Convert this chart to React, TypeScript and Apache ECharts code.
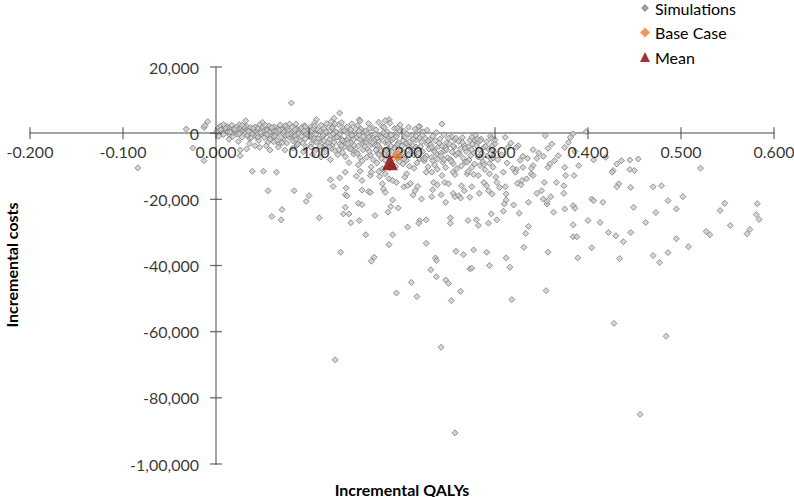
import React, { useEffect, useRef } from "react";
import * as echarts from "echarts";

const xTicks = [-0.2, -0.1, 0, 0.1, 0.2, 0.3, 0.4, 0.5, 0.6];
const yTicks = [-100000, -80000, -60000, -40000, -20000, 0, 20000];

const xTitle = "Incremental QALYs";
const yTitle = "Incremental costs";
const seriesNames = ["Simulations", "Base Case", "Mean"];

const baseCase: [number, number][] = [[0.195, -6800]];
const meanPoint: [number, number][] = [[0.187, -8800]];

// Simulations: [incremental QALYs, incremental costs]
const simulationPoints: [number, number][] = [
  // outliers near origin
  [-0.084, -10500], [-0.032, 1270], [-0.025, -4470], [-0.013, 1750], [-0.009, 3470], [-0.013, -8300],
  [0.033, -4770], [0.032, 3780], [0.05, 3270], [0.042, -3780], [0.047, -4280], [0.058, -5080],
  [0.026, -5080], [0.081, 9120], [-0.012, 2300], [0.026, -6800], [0.108, 4100], [0.133, 6100],
  [0.127, 4500], [0.154, 4100], [0.186, 4100], [0.182, 3800], [0.219, 2000], [0.218, 1000],
  // dense band
  [0.002, 1500], [0.004, 800], [0.005, 2200], [0.006, 300], [0.007, 1200], [0.008, -400], [0.009, 1800], [0.003, -900], [0.001, 500],
  [0.011, 1000], [0.012, 2000], [0.013, 400], [0.014, 1500], [0.015, -600], [0.016, 900], [0.017, 2400], [0.018, 100], [0.019, 1300], [0.014, -1800],
  [0.021, 700], [0.022, 1800], [0.023, -300], [0.024, 1100], [0.025, 2600], [0.026, 400], [0.027, 1500], [0.028, -1200], [0.029, 900], [0.024, -2500],
  [0.031, 1300], [0.032, 200], [0.033, 2100], [0.034, -700], [0.035, 1000], [0.036, -1500], [0.037, 1700], [0.038, 500], [0.039, -300], [0.036, -3200],
  [0.041, 800], [0.042, 1900], [0.043, -1000], [0.044, 400], [0.045, 1400], [0.046, -2200], [0.047, 2600], [0.048, -400], [0.049, 1100], [0.045, -300],
  [0.051, 600], [0.052, -1300], [0.053, 1700], [0.054, -200], [0.055, 900], [0.056, -2700], [0.057, 2200], [0.058, -800], [0.059, 1300], [0.054, -3800], [0.058, 300],
  [0.061, -1500], [0.062, 800], [0.063, 1900], [0.064, -400], [0.065, -2300], [0.066, 1200], [0.067, 200], [0.068, -3300], [0.069, 2500], [0.063, -900], [0.067, -4200],
  [0.071, 1000], [0.072, -1800], [0.073, 300], [0.074, 2100], [0.075, -700], [0.076, -3000], [0.077, 1500], [0.078, -200], [0.079, -1200], [0.074, -5100], [0.078, 600],
  [0.081, -600], [0.082, 1800], [0.083, -2400], [0.084, 400], [0.085, -1300], [0.086, 2800], [0.087, -3600], [0.088, 900], [0.089, -100], [0.083, -4500], [0.087, 1300], [0.085, -800],
  [0.091, 1200], [0.092, -900], [0.093, -2900], [0.094, 300], [0.095, 2300], [0.096, -1700], [0.097, -4100], [0.098, 700], [0.099, -500], [0.094, -5600], [0.092, 1700], [0.097, -200],
  [0.101, -1100], [0.102, 1900], [0.103, -3100], [0.104, 400], [0.105, -2100], [0.106, 3100], [0.107, -400], [0.108, -5000], [0.109, 1100], [0.104, -6400], [0.106, -1600], [0.103, 800],
  [0.111, -2600], [0.112, 600], [0.113, 2400], [0.114, -1200], [0.115, -4300], [0.116, 1400], [0.117, -300], [0.118, -3500], [0.119, 2900], [0.113, -7200], [0.117, -5800], [0.115, 200],
  [0.121, 1700], [0.122, -1900], [0.123, -600], [0.124, 3500], [0.125, -3800], [0.126, 900], [0.127, -2700], [0.128, -5300], [0.129, 400], [0.123, -8000], [0.126, 2200], [0.128, -1400], [0.124, -4600],
  [0.131, -900], [0.132, 2600], [0.133, -3300], [0.134, 600], [0.135, -1800], [0.136, -5900], [0.137, 1500], [0.138, -2500], [0.139, -7100], [0.133, -400], [0.135, 3200], [0.138, -4200], [0.131, -6500],
  [0.141, 1900], [0.142, -1500], [0.143, -4600], [0.144, 300], [0.145, -2900], [0.146, 2800], [0.147, -800], [0.148, -6300], [0.149, -3700], [0.143, -8900], [0.145, 1000], [0.147, -5200], [0.141, -2200],
  [0.151, -1300], [0.152, 2300], [0.153, -3900], [0.154, -600], [0.155, -7400], [0.156, 1200], [0.157, -2400], [0.158, -5000], [0.159, 400], [0.153, -9600], [0.155, 3700], [0.158, -3100], [0.151, -5700], [0.157, -8400],
  [0.161, 700], [0.162, -2100], [0.163, -4800], [0.164, 2900], [0.165, -1000], [0.166, -6600], [0.167, -3400], [0.168, 1600], [0.169, -8000], [0.163, -200], [0.165, -5500], [0.167, -10200], [0.161, -2900], [0.169, -1500],
  [0.171, -3600], [0.172, 1000], [0.173, -1700], [0.174, -6000], [0.175, 3300], [0.176, -4400], [0.177, -900], [0.178, -7700], [0.179, 2000], [0.173, -9000], [0.175, -2600], [0.177, -5300], [0.171, -300], [0.179, -10800],
  [0.181, 1800], [0.182, -2800], [0.183, -5400], [0.184, 400], [0.185, -1200], [0.186, -7000], [0.187, 3000], [0.188, -3900], [0.189, -9400], [0.183, -600], [0.185, -4700], [0.187, -10500], [0.181, -6300], [0.189, -2000],
  [0.191, -1600], [0.192, 1400], [0.193, -4000], [0.194, -6900], [0.195, -300], [0.196, -2900], [0.197, -8600], [0.198, 2500], [0.199, -5200], [0.193, -10100], [0.195, -3500], [0.197, 800], [0.191, -7600],
  [0.201, -2300], [0.202, 600], [0.203, -5900], [0.204, -1100], [0.205, -8200], [0.206, -3600], [0.207, 1800], [0.208, -10000], [0.209, -4500], [0.203, -7100], [0.205, -200], [0.207, -6400], [0.201, -9300],
  [0.211, -800], [0.212, -3800], [0.213, -6600], [0.214, 1200], [0.215, -2000], [0.216, -9000], [0.217, -5000], [0.218, 2000], [0.219, -7700], [0.213, -10600], [0.215, -4200], [0.219, -1300],
  [0.221, -2700], [0.222, -5500], [0.223, 400], [0.224, -8400], [0.225, -1500], [0.226, -6900], [0.227, -3200], [0.228, -10200], [0.229, -4800], [0.223, -7800], [0.227, 900],
  [0.231, -3500], [0.232, -7300], [0.233, -900], [0.234, -5100], [0.235, -9600], [0.236, -2300], [0.237, -6200], [0.238, -10900], [0.239, -4100], [0.233, -8300], [0.237, 200],
  [0.241, -1800], [0.242, -6000], [0.243, -3900], [0.244, -8800], [0.245, -500], [0.246, -5300], [0.247, -10400], [0.248, -2900], [0.249, -7400], [0.243, 2800], [0.247, -4400],
  [0.251, -3300], [0.252, -7900], [0.253, -1100], [0.254, -5700], [0.255, -9200], [0.256, -4200], [0.257, -2000], [0.258, -6600], [0.259, -10700], [0.253, -8500],
  [0.261, -2500], [0.262, -6300], [0.263, -4700], [0.264, -9900], [0.265, -1300], [0.266, -7600], [0.267, -3600], [0.268, -8700], [0.269, -5500],
  [0.271, -4100], [0.272, -8100], [0.273, -2200], [0.274, -6700], [0.275, -10400], [0.276, -3300], [0.277, -5900], [0.278, -9300], [0.279, -700],
  [0.281, -3000], [0.282, -7200], [0.283, -5000], [0.284, -9800], [0.285, -1800], [0.286, -6100], [0.287, -8600], [0.288, -4300], [0.289, -11000],
  [0.291, -2600], [0.292, -6900], [0.293, -4800], [0.294, -9100], [0.295, -900], [0.296, -7800], [0.297, -3700], [0.298, -10300], [0.299, -5600],
  // dense band, second pass
  [0.005, 1000], [0.01, 1600], [0.015, 300], [0.02, 1200], [0.025, -200], [0.03, 2000], [0.035, 500], [0.04, 1500], [0.045, -1200], [0.05, 1900],
  [0.008, 2600], [0.018, -1000], [0.028, 2400], [0.038, -1400], [0.048, 200],
  [0.055, -400], [0.06, 1700], [0.065, 600], [0.07, -1300], [0.075, 2300], [0.08, -200], [0.085, 1100], [0.09, -2200], [0.095, 700], [0.1, -800],
  [0.053, 2400], [0.062, -2600], [0.071, -2900], [0.079, 2800], [0.088, -3300], [0.096, 2000], [0.058, -1800], [0.068, 900], [0.077, -500], [0.086, -1900],
  [0.105, 1400], [0.11, -1700], [0.115, -600], [0.12, -2900], [0.125, 1600], [0.13, -1200], [0.135, -3800], [0.14, 200], [0.145, -4800], [0.15, 1300],
  [0.102, -4200], [0.108, -2700], [0.112, -3900], [0.118, 400], [0.122, -4100], [0.128, 2800], [0.132, -5000], [0.138, 800], [0.142, -3100], [0.148, -1900],
  [0.106, 2200], [0.116, -2300], [0.126, -200], [0.136, -2200], [0.146, -600],
  [0.155, -2000], [0.16, -4000], [0.165, 1500], [0.17, -2200], [0.175, -6500], [0.18, 200], [0.185, -3000], [0.19, -5500], [0.195, 1600], [0.2, -3900],
  [0.152, -6200], [0.158, -1000], [0.162, -7300], [0.168, -2800], [0.172, -5100], [0.178, -1300], [0.182, -8200], [0.188, -600], [0.192, -4600], [0.198, -7000],
  [0.154, 600], [0.164, -1200], [0.174, -3700], [0.184, -2200], [0.194, -1100],
  [0.205, -3000], [0.21, -5600], [0.215, -900], [0.22, -4000], [0.225, -7600], [0.23, -2000], [0.235, -5600], [0.24, -3000], [0.245, -8000], [0.25, -1500],
  [0.202, -7800], [0.212, -1800], [0.222, -600], [0.232, -4300], [0.242, -6800], [0.208, -2600], [0.218, -6000], [0.228, -2400], [0.238, -7900], [0.248, -5000],
  [0.255, -3800], [0.26, -6000], [0.265, -2800], [0.27, -8800], [0.275, -5000], [0.28, -3800], [0.285, -7400], [0.29, -4000], [0.295, -6200], [0.3, -3200],
  [0.258, -1500], [0.268, -4500], [0.278, -2000], [0.288, -9500], [0.298, -7500],
  // 0.27 - 0.41 upper region
  [0.275, -1270], [0.281, -1750], [0.284, -2270], [0.296, -1570], [0.3, -1960], [0.311, -1270], [0.354, -760], [0.381, -1270],
  [0.384, -150], [0.375, -4290], [0.361, -3260], [0.357, -4590], [0.325, -3780], [0.323, -4290], [0.341, -4980], [0.347, -5980],
  [0.368, -6800], [0.33, -7000], [0.314, -4290], [0.345, -7610], [0.335, -7610], [0.39, -9800], [0.375, -10330], [0.359, -9300],
  [0.357, -10330], [0.341, -9800], [0.339, -10630], [0.33, -10330], [0.323, -11020], [0.319, -10630], [0.379, -2800],
  [0.303, -8000], [0.307, -6500], [0.313, -9000], [0.317, -3000], [0.327, -8200], [0.352, -7000], [0.364, -8300], [0.386, -5500], [0.398, 450],
  // lower left (0 - 0.2, below -11,000)
  [0.039, -11500], [0.051, -11500], [0.065, -11800], [0.056, -17400], [0.084, -17400], [0.1, -18900], [0.097, -20600],
  [0.06, -25200], [0.071, -23100], [0.07, -26200], [0.111, -25600], [0.123, -14100], [0.126, -16100], [0.133, -13500],
  [0.139, -11800], [0.14, -16600], [0.139, -18600], [0.141, -19000], [0.139, -22400], [0.137, -24400], [0.143, -24400],
  [0.145, -27100], [0.154, -26400], [0.153, -21200], [0.157, -21600], [0.151, -13000], [0.155, -11500], [0.157, -17200],
  [0.164, -17600], [0.166, -17900], [0.157, -14300], [0.166, -12800], [0.167, -11800], [0.176, -13100], [0.175, -11600],
  [0.182, -12300], [0.186, -13800], [0.19, -14300], [0.194, -14900], [0.179, -15300], [0.18, -16900], [0.182, -17900],
  [0.19, -20200], [0.188, -22200], [0.185, -23900], [0.196, -22600], [0.171, -24900], [0.161, -30700], [0.19, -30700],
  [0.186, -33700], [0.134, -36000], [0.17, -37500], [0.167, -38700], [0.194, -48300],
  // lower middle (0.2 - 0.39)
  [0.205, -12300], [0.203, -13300], [0.202, -16200], [0.206, -15900], [0.209, -15200], [0.217, -16100], [0.214, -17400],
  [0.212, -18700], [0.221, -19900], [0.226, -11800], [0.232, -11800], [0.234, -14900], [0.238, -15600], [0.233, -17100],
  [0.232, -19200], [0.242, -18600], [0.243, -12800], [0.246, -14900], [0.25, -15300], [0.247, -20900], [0.255, -11800],
  [0.257, -12500], [0.255, -18200], [0.257, -19200], [0.261, -18900], [0.263, -19600], [0.264, -15900], [0.267, -17400],
  [0.273, -19400], [0.27, -12300], [0.271, -11600], [0.275, -16200], [0.282, -12800], [0.277, -12500], [0.283, -18200],
  [0.288, -14900], [0.291, -15900], [0.294, -12300], [0.293, -17400], [0.297, -18400], [0.302, -14900], [0.301, -13300],
  [0.305, -16400], [0.311, -16200], [0.312, -18400], [0.309, -11800], [0.312, -20200], [0.31, -21400], [0.309, -23600],
  [0.296, -24400], [0.302, -26200], [0.293, -27200], [0.282, -27900], [0.28, -26200], [0.271, -26400], [0.252, -25600],
  [0.252, -27200], [0.226, -26200], [0.219, -26400], [0.218, -27200], [0.206, -28400], [0.32, -21700], [0.326, -24200],
  [0.322, -11800], [0.324, -15200], [0.328, -15600], [0.329, -14300], [0.334, -13800], [0.339, -12300], [0.341, -12800],
  [0.345, -18200], [0.35, -17400], [0.353, -14900], [0.352, -19900], [0.356, -21400], [0.356, -20600], [0.36, -19200],
  [0.366, -14900], [0.374, -15900], [0.374, -18200], [0.376, -12800], [0.385, -12800], [0.336, -20900], [0.336, -28200],
  [0.333, -30300], [0.331, -34500], [0.363, -23900], [0.375, -22900], [0.384, -21900], [0.386, -22700], [0.384, -27700],
  [0.384, -31300], [0.388, -31300], [0.389, -37700], [0.357, -36000], [0.226, -33300], [0.236, -37700], [0.237, -38500],
  [0.231, -41300], [0.237, -43400], [0.247, -44400], [0.25, -45400], [0.21, -45100], [0.216, -49400], [0.258, -35700],
  [0.266, -36700], [0.277, -35300], [0.291, -36000], [0.273, -41000], [0.275, -40800], [0.294, -40000], [0.312, -37700],
  [0.316, -40500], [0.263, -47800], [0.318, -50300], [0.355, -47600], [0.253, -50600],
  // far outliers
  [0.128, -68500], [0.242, -64700], [0.257, -90600], [0.428, -57500], [0.484, -61400], [0.456, -85000],
  // right side (> 0.4)
  [0.521, -10600], [0.454, -7800], [0.445, -8100], [0.445, -11000], [0.45, -11300], [0.427, -11300], [0.426, -11800],
  [0.431, -9300], [0.436, -8300], [0.47, -16200], [0.479, -15900], [0.446, -16400], [0.433, -15300], [0.431, -16200],
  [0.495, -22900], [0.547, -21200], [0.419, -7300], [0.406, -8100], [0.404, -19900], [0.406, -20400], [0.416, -20900],
  [0.449, -22400], [0.4, -26400], [0.413, -27000], [0.422, -30000], [0.43, -31000], [0.438, -32800], [0.404, -34600],
  [0.434, -37900], [0.446, -30000], [0.47, -37000], [0.477, -39100], [0.486, -36100], [0.495, -31900], [0.508, -34300],
  [0.462, -27000], [0.473, -24000], [0.486, -20400], [0.502, -19200], [0.527, -29700], [0.531, -30700], [0.571, -30400],
  [0.574, -29100], [0.582, -21300], [0.581, -24600], [0.584, -26100], [0.553, -27900], [0.542, -23400],
];

function formatIndian(v: number): string {
  const neg = v < 0;
  const s = Math.round(Math.abs(v)).toString();
  let out = s;
  if (s.length > 3) {
    const last3 = s.slice(-3);
    let rest = s.slice(0, -3);
    const parts: string[] = [];
    while (rest.length > 2) {
      parts.unshift(rest.slice(-2));
      rest = rest.slice(0, -2);
    }
    if (rest) parts.unshift(rest);
    out = parts.join(",") + "," + last3;
  }
  return (neg ? "-" : "") + out;
}

const FONT = "Lato, 'Open Sans', sans-serif";
const AXIS_COLOR = "#868686";
const TICK_COLOR = "#404040";

export default function App() {
  const ref = useRef<HTMLDivElement>(null);
  useEffect(() => {
    if (!ref.current) return;
    const chart = echarts.init(ref.current, undefined, { renderer: "svg" });
    const xMin = xTicks[0];
    const xMax = xTicks[xTicks.length - 1];
    const yMin = yTicks[0];
    const yMax = yTicks[yTicks.length - 1];
    chart.setOption({
      animation: false,
      textStyle: { fontFamily: FONT },
      grid: { left: 30, right: 20, top: 67, bottom: 33, containLabel: false, outerBoundsMode: "none" },
      xAxis: {
        type: "value",
        min: xMin,
        max: xMax,
        interval: xTicks[1] - xTicks[0],
        splitLine: { show: false },
        axisLine: { show: true, onZero: true, lineStyle: { color: AXIS_COLOR, width: 1.5 } },
        axisTick: { show: false },
        axisLabel: { show: false },
      },
      yAxis: {
        type: "value",
        min: yMin,
        max: yMax,
        interval: yTicks[1] - yTicks[0],
        splitLine: { show: false },
        axisLine: { show: true, onZero: true, lineStyle: { color: AXIS_COLOR, width: 1.5 } },
        axisTick: { show: false },
        axisLabel: { show: false },
      },
      legend: {
        orient: "vertical",
        left: 639,
        top: 0,
        padding: 0,
        itemWidth: 10,
        itemHeight: 10,
        itemGap: 8.5,
        textStyle: { color: "#000", fontSize: 16, fontFamily: FONT },
        data: [
          { name: seriesNames[0], icon: "path://M0 0M10 10M2.5 5L5 2.5L7.5 5L5 7.5Z" },
          { name: seriesNames[1], icon: "diamond" },
          { name: seriesNames[2], icon: "triangle" },
        ],
      },
      graphic: [
        {
          type: "text",
          x: 11,
          y: 265,
          rotation: Math.PI / 2,
          style: { text: yTitle, font: `bold 16px ${FONT}`, fill: "#000", align: "center", verticalAlign: "middle" },
        },
        {
          type: "text",
          x: 402,
          y: 489,
          style: { text: xTitle, font: `bold 16px ${FONT}`, fill: "#000", align: "center", verticalAlign: "middle" },
        },
      ],
      series: [
        {
          name: seriesNames[0],
          type: "scatter",
          symbol: "diamond",
          symbolSize: 6,
          itemStyle: { color: "#cbcbcb", borderColor: "#7c7c7c", borderWidth: 1 },
          data: simulationPoints,
          z: 2,
        },
        {
          name: "xTicks",
          type: "scatter",
          silent: true,
          clip: false,
          symbol: "rect",
          symbolSize: [1.2, 12],
          itemStyle: { color: TICK_COLOR },
          label: {
            show: true,
            position: "bottom",
            distance: 4,
            color: "#000",
            fontSize: 16,
            fontFamily: FONT,
            formatter: (p: any) => (p.value[0] as number).toFixed(3),
          },
          data: xTicks.map((v) => [v, 0]),
          z: 3,
        },
        {
          name: "yTicks",
          type: "scatter",
          silent: true,
          clip: false,
          symbol: "rect",
          symbolSize: [12, 1.2],
          itemStyle: { color: TICK_COLOR },
          label: {
            show: true,
            position: "left",
            distance: 11,
            color: "#000",
            fontSize: 16,
            fontFamily: FONT,
            formatter: (p: any) => formatIndian(p.value[1] as number),
          },
          data: yTicks.map((v) => [0, v]),
          z: 3,
        },
        {
          name: seriesNames[1],
          type: "scatter",
          symbol: "diamond",
          symbolSize: 12,
          itemStyle: { color: "#ED7D31" },
          data: baseCase,
          z: 4,
        },
        {
          name: seriesNames[2],
          type: "scatter",
          symbol: "triangle",
          symbolSize: 16,
          itemStyle: { color: "#8B0000" },
          data: meanPoint,
          z: 5,
        },
      ],
    });
    return () => chart.dispose();
  }, []);
  return (
    <div
      ref={ref}
      style={{ position: "fixed", left: 0, top: 0, width: 794, height: 497, background: "#fff" }}
    />
  );
}
